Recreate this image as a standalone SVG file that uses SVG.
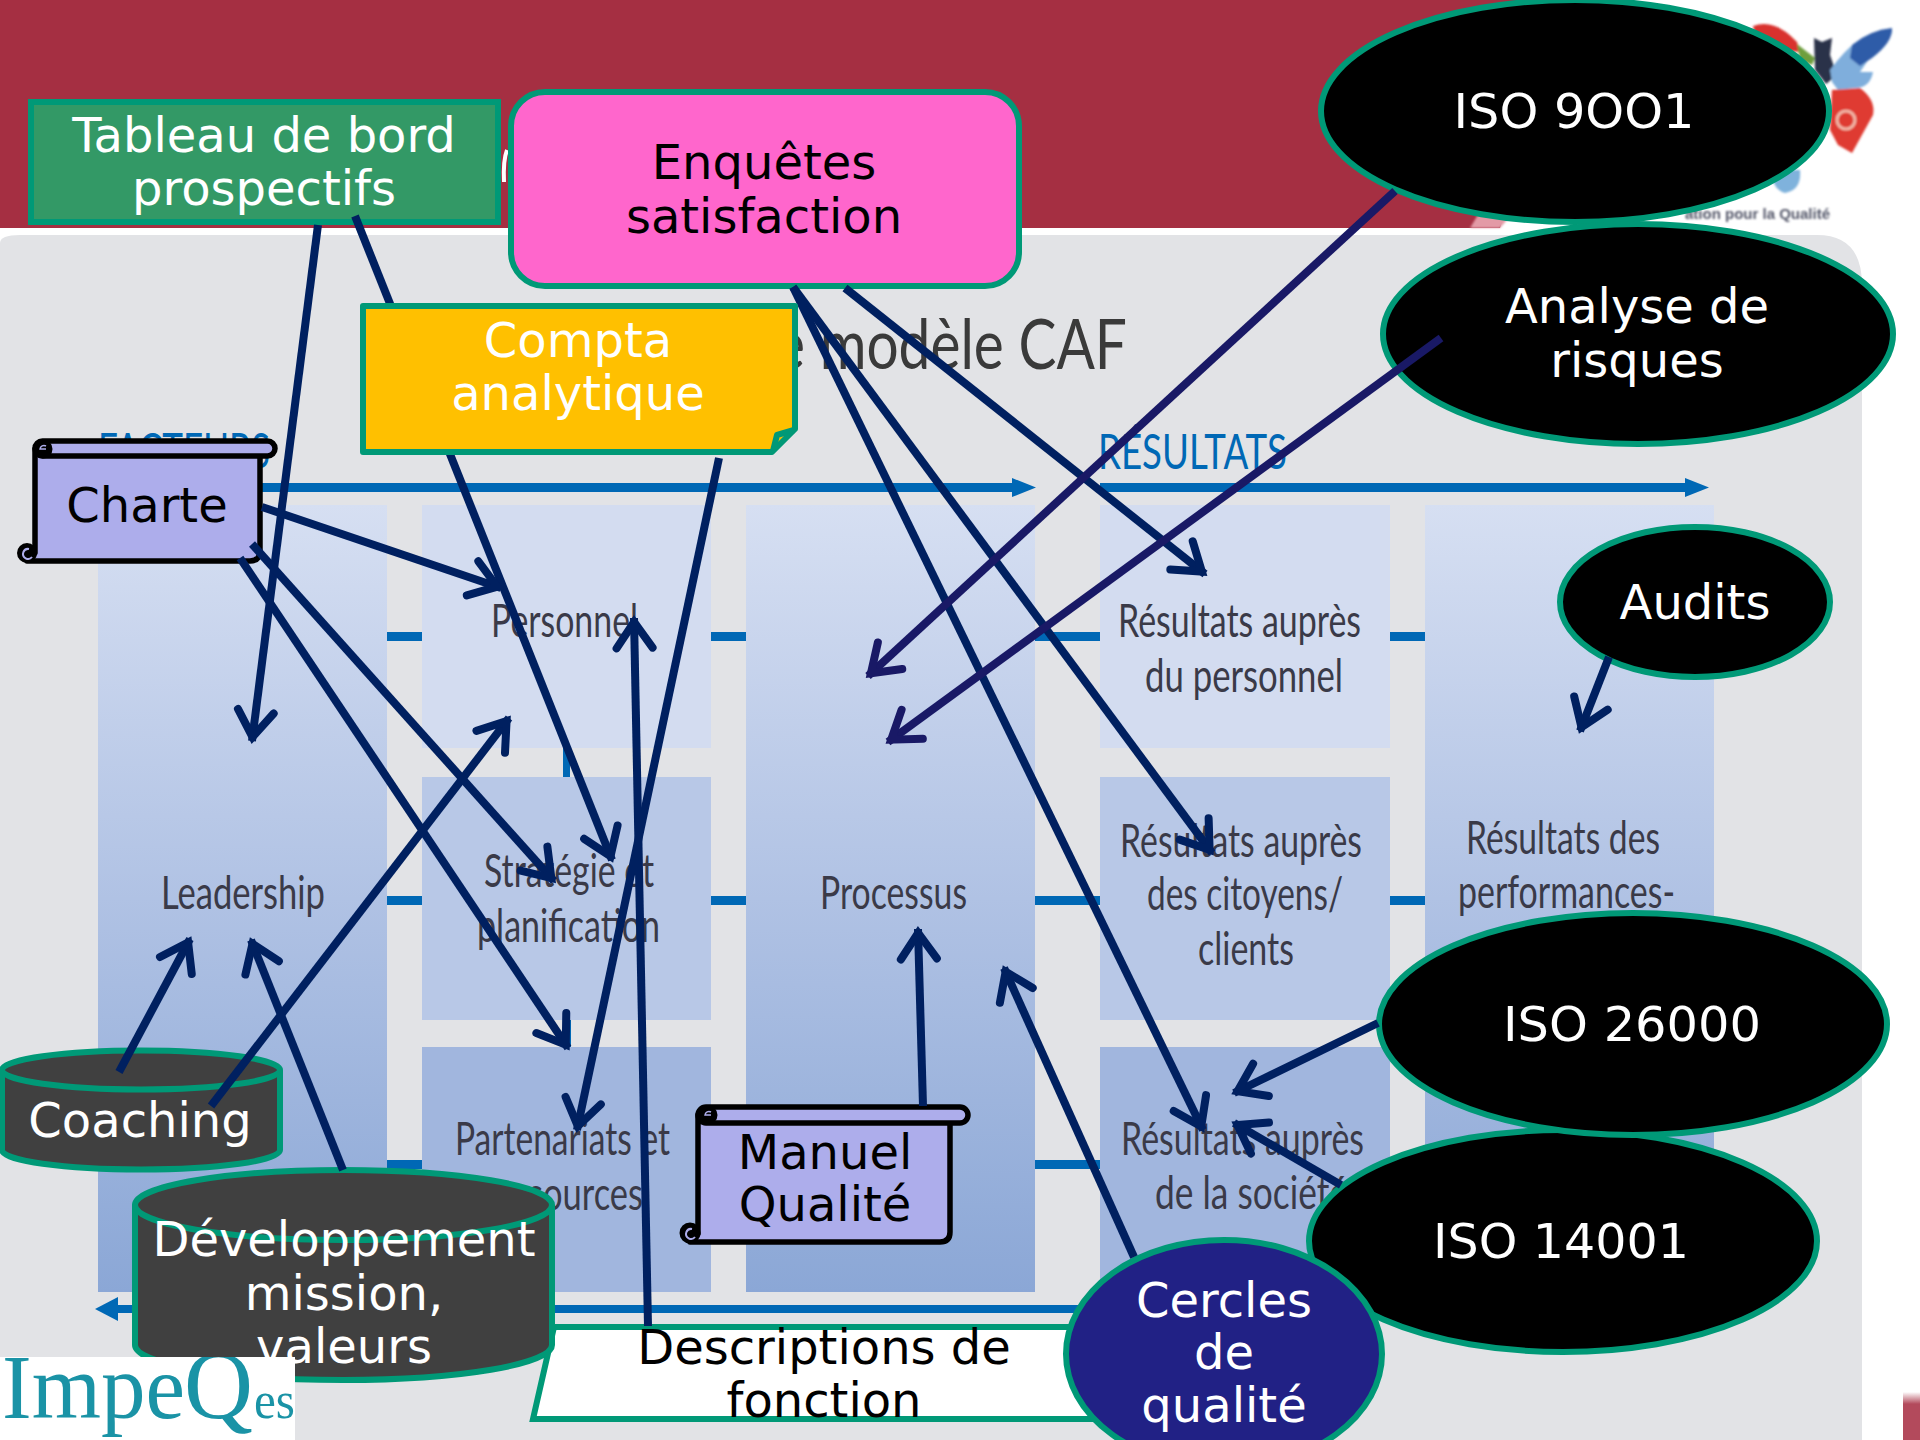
<svg xmlns="http://www.w3.org/2000/svg" width="1920" height="1440" viewBox="0 0 1920 1440">
<defs>
<linearGradient id="gCol" gradientUnits="userSpaceOnUse" x1="0" y1="505" x2="0" y2="1292"><stop offset="0" stop-color="#D6DFF2"/><stop offset="0.5" stop-color="#B0C2E4"/><stop offset="1" stop-color="#8BA7D6"/></linearGradient>
<linearGradient id="gFade" x1="0" y1="0" x2="0" y2="1"><stop offset="0" stop-color="#FFFFFF"/><stop offset="0.25" stop-color="#B34A5C"/></linearGradient>
<filter id="soft" x="-10%" y="-10%" width="120%" height="120%"><feGaussianBlur stdDeviation="1.2"/></filter>
<clipPath id="logoClip"><rect x="0" y="1357" width="295" height="83"/></clipPath>
<marker id="ah" markerUnits="userSpaceOnUse" markerWidth="60" markerHeight="60" viewBox="-45 -30 60 60" refX="0" refY="0" orient="auto"><path d="M-30,-18 L-4,0 L-30,18" fill="none" stroke="#002060" stroke-width="8" stroke-linecap="round" stroke-linejoin="miter" stroke-miterlimit="8"/></marker>
<marker id="ahd" markerUnits="userSpaceOnUse" markerWidth="60" markerHeight="60" viewBox="-45 -30 60 60" refX="0" refY="0" orient="auto"><path d="M-30,-18 L-4,0 L-30,18" fill="none" stroke="#191966" stroke-width="8" stroke-linecap="round" stroke-linejoin="miter" stroke-miterlimit="8"/></marker>
</defs>
<style>
.box{stroke:none}
.bar{fill:#0068B5}
.body{font-family:Lato,"Open Sans",sans-serif;font-size:46px;fill:#3A3A48}
.head{font-family:Lato,"Open Sans",sans-serif;font-size:48px;fill:#0068B5}
.lbl{font-family:"DejaVu Sans",Verdana,sans-serif;font-size:48px;text-anchor:middle;transform:translateY(1px)}
.w{fill:#FFFFFF}
.k{fill:#000000}
.nd{stroke:#009977;stroke-width:6}
.scr{fill:#ADADEB;stroke:#000000;stroke-width:5.5;stroke-linejoin:round}
.c line{stroke:#002060;stroke-width:8;fill:none;marker-end:url(#ah)}
.c line.d{stroke:#191966;marker-end:url(#ahd)}
</style>

<rect width="1920" height="1440" fill="#FFFFFF"/>
<path d="M0,0 H1570 L1500,228 H0 Z" fill="#A52F42"/>
<path d="M1470,228 L1482,208 L1520,205 L1500,228 Z" fill="#E39AA6" filter="url(#soft)"/>
<g id="butterfly" filter="url(#soft)">
<path d="M1753,26 Q1775,18 1797,42 L1800,52 L1775,50 Q1755,40 1753,26 Z" fill="#D9322E"/>
<path d="M1797,44 L1815,58 L1812,65 L1800,60 Z" fill="#6E9E3C"/>
<path d="M1814,38 L1822,42 L1832,38 L1830,55 L1837,75 L1826,84 L1815,70 Z" fill="#2A3048"/>
<path d="M1830,70 Q1845,50 1855,43 L1875,50 L1860,72 L1873,72 Q1870,88 1855,88 L1838,90 L1832,82 Z" fill="#7FAEDC"/>
<path d="M1852,45 Q1870,30 1892,28 Q1893,42 1872,58 L1860,66 L1850,58 Z" fill="#2F5CA8"/>
<path d="M1832,90 L1860,88 Q1876,100 1873,115 L1852,153 L1838,145 L1830,130 Z" fill="#DF3A30"/>
<path d="M1781,170 L1800,170 Q1802,190 1785,193 Q1775,190 1773,180 Z" fill="#7FB2DC"/>
<circle cx="1846" cy="120" r="9" fill="none" stroke="#F1B7A8" stroke-width="3"/>
</g>
<text x="1830" y="219" text-anchor="end" font-family="Liberation Sans, sans-serif" font-size="15" font-weight="700" fill="#55586A" filter="url(#soft)">ation pour la Qualité</text>

<path d="M0,243 Q0,235 20,235 H1817 Q1862,235 1862,285 V1440 H0 Z" fill="#E2E3E6"/>
<rect x="1903" y="1392" width="17" height="48" fill="url(#gFade)"/>
<path d="M507,150 Q503,160 504,182" fill="none" stroke="#FFFFFF" stroke-width="4"/>

<g id="model">
<text x="748" y="369" font-family="Lato,'Open Sans',sans-serif" font-size="70" fill="#3A3A3A" textLength="379" lengthAdjust="spacingAndGlyphs">Le modèle CAF</text>
<text class="head" x="98" y="468" textLength="172" lengthAdjust="spacingAndGlyphs">FACTEURS</text>
<text class="head" x="1098" y="469" textLength="189" lengthAdjust="spacingAndGlyphs">RÉSULTATS</text>
<rect class="bar" x="98" y="483" width="918" height="9"/><path class="bar" d="M1012,478 L1036,487.5 L1012,497 Z"/>
<rect class="bar" x="1100" y="483" width="590" height="9"/><path class="bar" d="M1685,478 L1709,487.5 L1685,497 Z"/>
<rect class="bar" x="115" y="1305" width="990" height="8"/><path class="bar" d="M118,1297 L95,1309 L118,1321 Z"/>
<path class="bar" d="M387,632h35v9h-35zM711,632h35v9h-35zM1035,632h65v9h-65zM1390,632h35v9h-35zM387,896h35v9h-35zM711,896h35v9h-35zM1035,896h65v9h-65zM1390,896h35v9h-35zM387,1160h35v9h-35zM1035,1160h65v9h-65zM563,748h7v29h-7zM566,1020h5v27h-5z"/>
<rect class="box" x="98" y="505" width="289" height="787" fill="url(#gCol)"/>
<rect class="box" x="422" y="505" width="289" height="243" fill="#D3DCF0"/>
<rect class="box" x="422" y="777" width="289" height="243" fill="#B8C8E7"/>
<rect class="box" x="422" y="1047" width="289" height="245" fill="#A1B6DE"/>
<rect class="box" x="746" y="505" width="289" height="787" fill="url(#gCol)"/>
<rect class="box" x="1100" y="505" width="290" height="243" fill="#D3DCF0"/>
<rect class="box" x="1100" y="777" width="290" height="243" fill="#B8C8E7"/>
<rect class="box" x="1100" y="1047" width="290" height="245" fill="#A1B6DE"/>
<rect class="box" x="1425" y="505" width="289" height="787" fill="url(#gCol)"/>
<text class="body" x="161" y="909" textLength="164" lengthAdjust="spacingAndGlyphs">Leadership</text>
<text class="body" x="491" y="637" textLength="147" lengthAdjust="spacingAndGlyphs">Personnel</text>
<text class="body" x="484" y="887" textLength="170" lengthAdjust="spacingAndGlyphs">Stratégie et</text>
<text class="body" x="477" y="942" textLength="183" lengthAdjust="spacingAndGlyphs">planification</text>
<text class="body" x="455" y="1155" textLength="215" lengthAdjust="spacingAndGlyphs">Partenariats et</text>
<text class="body" x="483" y="1210" textLength="160" lengthAdjust="spacingAndGlyphs">ressources</text>
<text class="body" x="820" y="909" textLength="147" lengthAdjust="spacingAndGlyphs">Processus</text>
<text class="body" x="1118" y="637" textLength="243" lengthAdjust="spacingAndGlyphs">Résultats auprès</text>
<text class="body" x="1145" y="692" textLength="198" lengthAdjust="spacingAndGlyphs">du personnel</text>
<text class="body" x="1120" y="857" textLength="242" lengthAdjust="spacingAndGlyphs">Résultats auprès</text>
<text class="body" x="1147" y="910" textLength="196" lengthAdjust="spacingAndGlyphs">des citoyens/</text>
<text class="body" x="1198" y="965" textLength="96" lengthAdjust="spacingAndGlyphs">clients</text>
<text class="body" x="1121" y="1155" textLength="243" lengthAdjust="spacingAndGlyphs">Résultats auprès</text>
<text class="body" x="1155" y="1209" textLength="193" lengthAdjust="spacingAndGlyphs">de la société</text>
<text class="body" x="1466" y="854" textLength="194" lengthAdjust="spacingAndGlyphs">Résultats des</text>
<text class="body" x="1458" y="908" textLength="217" lengthAdjust="spacingAndGlyphs">performances-</text>
</g>

<g id="node-tableau">
<rect class="nd" x="31" y="102" width="467" height="120" fill="#339966"/>
<text class="lbl w"><tspan x="264" y="151">Tableau de bord</tspan><tspan x="264" y="204">prospectifs</tspan></text>
</g>
<g id="node-enquetes">
<rect class="nd" x="511" y="92" width="508" height="194" rx="34" fill="#FF66CC"/>
<text class="lbl k"><tspan x="764" y="178">Enquêtes</tspan><tspan x="764" y="232">satisfaction</tspan></text>
</g>
<g id="node-charte">
<path class="scr" d="M35,449 H260 V551 Q260,561 250,561 H27 L35,553 Z"/>
<rect class="scr" x="35" y="441" width="240" height="15" rx="7.500"/>
<circle cx="43" cy="449" r="8" fill="#000" stroke="#000" stroke-width="3"/><path d="M46,446 A4,4 0 0 0 40,449 H46" fill="none" stroke="#ADADEB" stroke-width="1.500"/>
<circle cx="27" cy="553" r="8.500" fill="#000" stroke="#000" stroke-width="3"/><path d="M32,557 A5,5 0 1 1 29,549" fill="none" stroke="#ADADEB" stroke-width="2"/>
<text class="lbl k" x="147" y="521">Charte</text>
</g>
<g id="node-manuel">
<path class="scr" d="M698,1115 H950 V1232 Q950,1242 940,1242 H690 L698,1234 Z"/>
<rect class="scr" x="698" y="1107" width="270" height="16" rx="8"/>
<circle cx="708" cy="1115" r="8" fill="#000" stroke="#000" stroke-width="3"/><path d="M711,1112 A4,4 0 0 0 705,1115 H711" fill="none" stroke="#ADADEB" stroke-width="1.500"/>
<circle cx="690" cy="1233" r="9" fill="#000" stroke="#000" stroke-width="3"/><path d="M695,1237 A5,5 0 1 1 692,1229" fill="none" stroke="#ADADEB" stroke-width="2"/>
<text class="lbl k"><tspan x="825" y="1168">Manuel</tspan><tspan x="825" y="1220">Qualité</tspan></text>
</g>
<g id="node-coaching">
<path class="nd" d="M2,1070 V1150 A139,19.500 0 0 0 280,1150 V1070 A139,19.500 0 0 0 2,1070 Z" fill="#404040"/>
<path class="nd" d="M2,1070 A139,19.500 0 0 0 280,1070" fill="none"/>
<text class="lbl w" x="140" y="1136">Coaching</text>
</g>
<g id="node-descriptions">
<path class="nd" d="M554,1327 H1130 V1419 H533 Z" fill="#FFFFFF"/>
<text class="lbl k"><tspan x="824" y="1363">Descriptions de</tspan><tspan x="824" y="1416">fonction</tspan></text>
</g>
<g id="node-developpement">
<path class="nd" d="M135,1205 V1345 A208.500,35 0 0 0 552,1345 V1205 A208.500,35 0 0 0 135,1205 Z" fill="#404040"/>
<path class="nd" d="M135,1205 A208.500,35 0 0 0 552,1205" fill="none"/>
<text class="lbl w"><tspan x="344" y="1255">Développement</tspan><tspan x="344" y="1309">mission,</tspan><tspan x="344" y="1362">valeurs</tspan></text>
</g>
<g id="node-impeqes">
<rect x="0" y="1357" width="295" height="83" fill="#FFFFFF"/>
<g font-family="Liberation Serif,serif" fill="#1A93A6" clip-path="url(#logoClip)">
<text x="2" y="1418" font-size="92" textLength="183" lengthAdjust="spacingAndGlyphs">Impe</text>
<text x="184" y="1418" font-size="98" textLength="69" lengthAdjust="spacingAndGlyphs">Q</text>
<text x="254" y="1418" font-size="52" textLength="41" lengthAdjust="spacingAndGlyphs">es</text>
</g>
</g>
<g id="node-iso9001">
<ellipse class="nd" cx="1575" cy="111" rx="254" ry="111" fill="#000"/>
<text class="lbl w" x="1574" y="127" textLength="241" lengthAdjust="spacingAndGlyphs">ISO 9OO1</text>
</g>
<g id="node-analyse">
<ellipse class="nd" cx="1638" cy="334" rx="255" ry="110" fill="#000"/>
<text class="lbl w"><tspan x="1637" y="322">Analyse de</tspan><tspan x="1637" y="376">risques</tspan></text>
</g>
<g id="node-audits">
<ellipse class="nd" cx="1695" cy="602" rx="135" ry="75" fill="#000"/>
<text class="lbl w" x="1695" y="618">Audits</text>
</g>
<g id="node-iso14001">
<ellipse class="nd" cx="1563" cy="1241" rx="254" ry="111" fill="#000"/>
<text class="lbl w" x="1561" y="1257" textLength="256" lengthAdjust="spacingAndGlyphs">ISO 14001</text>
</g>
<g id="node-iso26000">
<ellipse class="nd" cx="1633" cy="1024" rx="254" ry="111" fill="#000"/>
<text class="lbl w" x="1632" y="1040" textLength="258" lengthAdjust="spacingAndGlyphs">ISO 26000</text>
</g>
<g id="node-cercles">
<ellipse class="nd" cx="1224" cy="1354" rx="158" ry="114" fill="#212185"/>
<text class="lbl w"><tspan x="1224" y="1316">Cercles</tspan><tspan x="1224" y="1368">de</tspan><tspan x="1224" y="1421">qualité</tspan></text>
</g>

<g id="connectors" class="c">
<line x1="318" y1="225" x2="252" y2="741"/>
<line x1="355" y1="216" x2="612" y2="860"/>
<line x1="845" y1="288" x2="1205" y2="574"/>
<line x1="793" y1="287" x2="1212" y2="853"/>
<line x1="793" y1="287" x2="1203" y2="1130"/>
<line class="d" x1="1395" y1="191" x2="868" y2="676"/>
<line class="d" x1="1441" y1="338" x2="888" y2="742"/>
<line x1="262" y1="507" x2="501" y2="588"/>
<line x1="252" y1="544" x2="554" y2="881"/>
<line x1="240" y1="558" x2="568" y2="1048"/>
<line x1="211" y1="1106" x2="509" y2="718"/>
<line x1="119" y1="1072" x2="190" y2="939"/>
<line x1="343" y1="1170" x2="251" y2="940"/>
<line x1="719" y1="458" x2="577" y2="1130"/>
<line x1="648" y1="1326" x2="634" y2="618"/>
<line x1="923" y1="1106" x2="918" y2="929"/>
<line x1="1134" y1="1257" x2="1004" y2="968"/>
<line x1="1378" y1="1023" x2="1234" y2="1093"/>
<line x1="1341" y1="1185" x2="1234" y2="1123"/>
<line x1="1609" y1="657" x2="1580" y2="731"/>
</g>

<g id="node-compta">
<path class="nd" d="M363,306 H795 V429 L772,452 H363 Z" fill="#FFC000" stroke-linejoin="round"/>
<path class="nd" d="M794,430 L777,435 L773,451" fill="none" stroke-width="5" stroke-linejoin="round"/>
<text class="lbl w"><tspan x="578" y="356">Compta</tspan><tspan x="578" y="409">analytique</tspan></text>
</g>
</svg>
